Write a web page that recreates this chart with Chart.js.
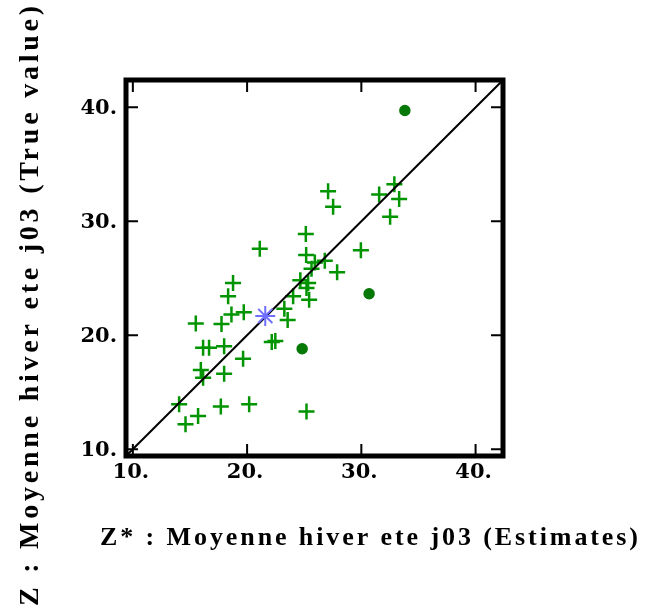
<!DOCTYPE html>
<html>
<head>
<meta charset="utf-8">
<script src="https://cdn.jsdelivr.net/npm/chart.js@4/dist/chart.umd.min.js"></script>
<style>
  html, body { margin: 0; padding: 0; background: #ffffff; }
  #wrap { width: 668px; height: 609px; }
</style>
</head>
<body>
<div id="wrap"><canvas id="c" width="668" height="609"></canvas></div>
<script>
// Axis range shared by both axes (square cross-validation plot)
const axisMin = 9.4;
const axisMax = 42.4;
const tickValues = [10, 20, 30, 40];

// Cross-validation samples: estimate Z* (x) against true value Z (y)
const estimates = [
  27.09, 27.53, 31.56, 32.89, 33.31, 32.52, 25.14, 21.11, 29.96, 25.17,
  25.93, 26.80, 25.64, 27.88, 24.66, 25.34, 25.20, 18.77, 18.34, 24.03,
  25.43, 23.26, 23.55, 18.63, 19.71, 15.51, 17.76, 22.16, 22.47, 16.15,
  16.67, 17.99, 19.65, 15.95, 16.15, 17.99, 14.05, 15.71, 14.61, 17.70,
  20.18, 25.20
];
const trueValues = [
  32.63, 31.27, 32.34, 33.25, 31.96, 30.40, 28.88, 27.60, 27.46, 27.05,
  26.38, 26.53, 25.84, 25.52, 24.82, 24.58, 24.14, 24.58, 23.41, 23.41,
  23.12, 22.33, 21.34, 21.81, 22.02, 21.02, 20.98, 19.40, 19.49, 18.90,
  18.90, 19.04, 17.94, 16.94, 16.27, 16.62, 13.94, 12.92, 12.19, 13.74,
  13.94, 13.30
];

// Overlapping samples drawn as filled dots
const stackedEstimates = [33.81, 30.68, 24.82];
const stackedTrue = [39.72, 23.64, 18.81];

// Mean of estimates and true values
const meanEstimate = [21.59];
const meanTrue = [21.69];

const xTitle = 'Z* : Moyenne hiver ete j03 (Estimates)';
const yTitle = 'Z : Moyenne hiver ete j03 (True value)';

const toPoints = (xs, ys) => xs.map((v, i) => ({ x: v, y: ys[i] }));

// Thick frame, inward ticks on all four sides, and the two axis titles
const framePlugin = {
  id: 'frame',
  afterDatasetsDraw(chart) {
    const { ctx, chartArea: a, scales } = chart;
    const sx = scales.x, sy = scales.y;
    const tl = 12;
    ctx.save();
    ctx.strokeStyle = '#000000';
    ctx.lineWidth = 2;
    ctx.beginPath();
    tickValues.forEach(v => {
      const px = sx.getPixelForValue(v);
      const py = sy.getPixelForValue(v);
      ctx.moveTo(px, a.bottom); ctx.lineTo(px, a.bottom - tl);
      ctx.moveTo(px, a.top); ctx.lineTo(px, a.top + tl);
      ctx.moveTo(a.left, py); ctx.lineTo(a.left + tl, py);
      ctx.moveTo(a.right, py); ctx.lineTo(a.right - tl, py);
    });
    ctx.stroke();
    ctx.lineWidth = 5;
    ctx.strokeRect(a.left, a.top, a.right - a.left, a.bottom - a.top);
    ctx.restore();
  },
  afterDraw(chart) {
    const ctx = chart.ctx;
    const spaced = (text, font, length) => {
      ctx.font = font;
      ctx.letterSpacing = '0px';
      const w0 = ctx.measureText(text).width;
      const gap = Math.max(0, (length - w0) / (text.length - 1));
      ctx.letterSpacing = gap.toFixed(2) + 'px';
    };
    ctx.save();
    ctx.fillStyle = '#000000';
    ctx.textAlign = 'left';
    ctx.textBaseline = 'alphabetic';

    // horizontal title under the x axis
    spaced(xTitle, 'bold 26px "Liberation Serif"', 538);
    ctx.fillText(xTitle, 100, 545);

    // vertical title, reading bottom to top
    ctx.save();
    ctx.translate(38, 606);
    ctx.rotate(-Math.PI / 2);
    spaced(yTitle, 'bold 28px "Liberation Serif"', 600);
    ctx.fillText(yTitle, 0, 0);
    ctx.restore();

    ctx.restore();
  }
};

const tickFont = { family: '"DejaVu Serif"', size: 21, weight: 'bold' };

new Chart(document.getElementById('c'), {
  type: 'scatter',
  data: {
    datasets: [
      {
        label: 'mean',
        data: toPoints(meanEstimate, meanTrue),
        pointStyle: 'star',
        pointRadius: 10,
        borderColor: '#6f6fff',
        backgroundColor: '#6f6fff',
        borderWidth: 2,
        order: 0
      },
      {
        type: 'line',
        label: 'first bisector',
        data: [{ x: axisMin, y: axisMin }, { x: axisMax, y: axisMax }],
        borderColor: '#000000',
        borderWidth: 2,
        pointRadius: 0,
        fill: false,
        order: 1
      },
      {
        label: 'samples',
        data: toPoints(estimates, trueValues),
        pointStyle: 'cross',
        pointRadius: 8,
        borderColor: '#009400',
        backgroundColor: '#009400',
        borderWidth: 2.5,
        order: 2
      },
      {
        label: 'stacked samples',
        data: toPoints(stackedEstimates, stackedTrue),
        pointStyle: 'circle',
        pointRadius: 5,
        borderColor: '#067806',
        backgroundColor: '#067806',
        borderWidth: 1.5,
        order: 2
      }
    ]
  },
  options: {
    responsive: false,
    animation: false,
    devicePixelRatio: 1,
    layout: { padding: { left: 0, top: 80, right: 165, bottom: 0 } },
    plugins: {
      legend: { display: false },
      tooltip: { enabled: false },
      title: { display: false }
    },
    scales: {
      x: {
        type: 'linear',
        position: 'bottom',
        min: axisMin,
        max: axisMax,
        afterBuildTicks: s => { s.ticks = tickValues.map(v => ({ value: v })); },
        afterFit: s => { s.height = 153; },
        grid: { display: false, drawTicks: false },
        border: { display: false },
        ticks: {
          font: tickFont,
          color: '#000000',
          padding: 4,
          labelOffset: -2,
          maxRotation: 0,
          callback: v => v + '.'
        }
      },
      y: {
        type: 'linear',
        position: 'left',
        min: axisMin,
        max: axisMax,
        afterBuildTicks: s => { s.ticks = tickValues.map(v => ({ value: v })); },
        afterFit: s => { s.width = 126; },
        grid: { display: false, drawTicks: false },
        border: { display: false },
        ticks: {
          font: tickFont,
          color: '#000000',
          padding: 9,
          labelOffset: 1,
          callback: v => v + '.'
        }
      }
    }
  },
  plugins: [framePlugin]
});
</script>
</body>
</html>
